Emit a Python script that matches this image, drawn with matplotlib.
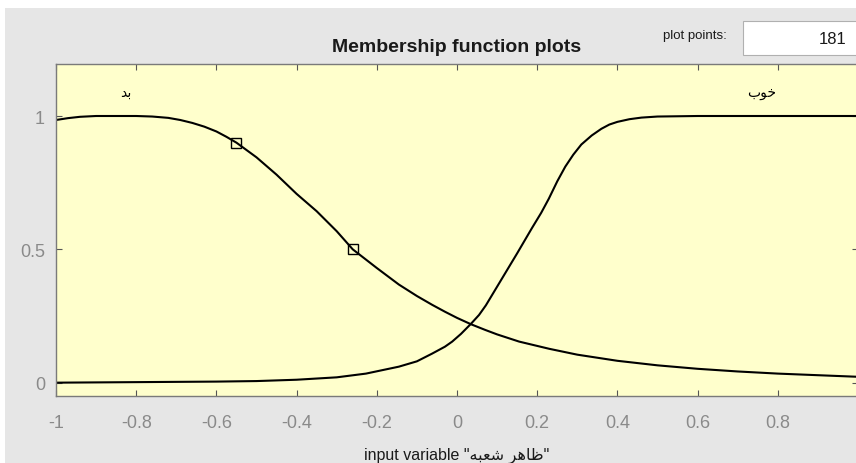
#!/usr/bin/env python3
"""Membership function plots (fuzzy input variable, two MFs) - matplotlib recreation."""

import matplotlib
matplotlib.use("Agg")
import matplotlib.pyplot as plt
from matplotlib.patches import Rectangle

plt.rcParams["font.family"] = ["Liberation Sans", "DejaVu Sans"]

# --- data ---------------------------------------------------------------------------
# "bad" (بد) membership curve
bad_x = [-1.0, -0.97, -0.94, -0.9, -0.85, -0.8, -0.76, -0.72, -0.69, -0.66, -0.63, -0.6,
         -0.575, -0.55, -0.5, -0.45, -0.4, -0.35, -0.3, -0.26, -0.2, -0.145, -0.1,
         -0.062, -0.03, 0.0, 0.035, 0.07, 0.1, 0.155, 0.23, 0.3, 0.4, 0.5, 0.6, 0.7,
         0.8, 0.9, 1.0]
bad_y = [0.985, 0.992, 0.997, 1.0, 1.0, 1.0, 0.998, 0.993, 0.985, 0.974, 0.96, 0.942,
         0.922, 0.90, 0.845, 0.78, 0.708, 0.643, 0.568, 0.50, 0.43, 0.368, 0.325,
         0.292, 0.266, 0.243, 0.219, 0.198, 0.181, 0.154, 0.127, 0.105, 0.082, 0.065,
         0.052, 0.042, 0.034, 0.028, 0.022]
# "good" (خوب) membership curve
good_x = [-1.0, -0.8, -0.6, -0.5, -0.4, -0.3, -0.227, -0.145, -0.1, -0.062, -0.03,
          -0.012, 0.01, 0.035, 0.055, 0.072, 0.09, 0.112, 0.15, 0.187, 0.21, 0.229,
          0.25, 0.27, 0.29, 0.31, 0.336, 0.36, 0.38, 0.40, 0.43, 0.46, 0.5, 0.55, 0.6,
          1.0]
good_y = [0.0, 0.002, 0.004, 0.006, 0.011, 0.02, 0.034, 0.06, 0.08, 0.109, 0.135,
          0.154, 0.183, 0.221, 0.254, 0.29, 0.335, 0.39, 0.485, 0.58, 0.637, 0.69,
          0.755, 0.81, 0.855, 0.893, 0.927, 0.952, 0.968, 0.978, 0.988, 0.994, 0.998,
          0.999, 1.0, 1.0]
# parameter handles drawn on the selected MF
handle_x = [-0.55, -0.26]
handle_y = [0.90, 0.50]

# Persian labels, pre-shaped (presentation forms, visual left-to-right order)
BAD_LABEL = "\uFEAA\uFE91"                      # بد
GOOD_LABEL = "\uFE8F\uFEEE\uFEA7"               # خوب
VAR_NAME = "\uFEEA\uFE92\uFECC\uFEB7 \uFEAE\uFEEB\uFE8E\uFEC7"  # ظاهر شعبه
PLOT_POINTS = "181"

BG = "#e6e6e6"
AX_BG = "#ffffcc"
TICK_GREY = "#8a8a8a"

fig = plt.figure(figsize=(8.56, 4.64), dpi=100, facecolor=BG)
# thin white margin along the top/left of the screenshot
fig.patches.append(Rectangle((0, 1 - 9 / 464), 1, 9 / 464, transform=fig.transFigure,
                             facecolor="white", edgecolor="none", zorder=-1))
fig.patches.append(Rectangle((0, 0), 5 / 856, 1, transform=fig.transFigure,
                             facecolor="white", edgecolor="none", zorder=-1))

ax = fig.add_axes([56 / 856, 1 - 397 / 464, 802 / 856, 332 / 464], facecolor=AX_BG)
ax.plot(bad_x, bad_y, color="black", lw=1.5)
ax.plot(good_x, good_y, color="black", lw=1.5)
ax.plot(handle_x, handle_y, ls="none", marker="s", ms=7, mfc="none", mec="black", mew=1.0)

ax.text(-0.825, 1.09, BAD_LABEL, ha="center", va="center", fontsize=10,
        family="DejaVu Sans")
ax.text(0.76, 1.09, GOOD_LABEL, ha="center", va="center", fontsize=10,
        family="DejaVu Sans")

ax.set_xlim(-1, 1)
ax.set_ylim(-0.05, 1.195)
ax.set_xticks([-1, -0.8, -0.6, -0.4, -0.2, 0, 0.2, 0.4, 0.6, 0.8])
ax.set_xticklabels(["-1", "-0.8", "-0.6", "-0.4", "-0.2", "0", "0.2", "0.4", "0.6", "0.8"])
ax.set_yticks([0, 0.5, 1])
ax.set_yticklabels(["0", "0.5", "1"])
ax.tick_params(direction="in", length=4, width=0.8, colors="#555555", labelcolor=TICK_GREY,
               labelsize=13, top=True, right=True)
ax.tick_params(axis="x", pad=13)
ax.tick_params(axis="y", pad=8)
for sp in ax.spines.values():
    sp.set_color("#7a7a7a")
    sp.set_linewidth(1.0)

ax.set_xlabel('input variable "' + VAR_NAME + '"', fontsize=11.5, color="#1a1a1a",
              labelpad=11)

fig.text(457 / 856, 1 - 48 / 464, "Membership function plots", ha="center", va="center",
         fontsize=14, fontweight="bold", color="#1a1a1a")
fig.text(695 / 856, 1 - 36 / 464, "plot points:", ha="center", va="center", fontsize=9.5,
         color="#1a1a1a")
fig.patches.append(Rectangle((743 / 856, 1 - 56 / 464), 120 / 856, 34 / 464,
                             transform=fig.transFigure, facecolor="white",
                             edgecolor="#b0b0b0", lw=0.8))
fig.text(846 / 856, 1 - 40 / 464, PLOT_POINTS, ha="right", va="center", fontsize=12,
         color="#1a1a1a")

fig.savefig("out.png", dpi=100, facecolor=BG)
